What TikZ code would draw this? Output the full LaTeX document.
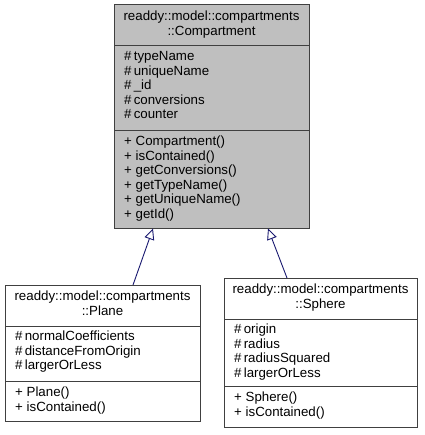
\documentclass[tikz,border=0pt]{standalone}
\usepackage{fontspec}
\setmainfont{Liberation Sans}
\usetikzlibrary{arrows.meta}
\definecolor{boxline}{HTML}{404040}
\definecolor{boxgray}{HTML}{BFBFBF}
\definecolor{edgeblue}{HTML}{191970}
\begin{document}
\begin{tikzpicture}[x=1pt,y=-1pt,
  classbox/.style={draw=boxline,line width=1pt,inner sep=0pt,outer sep=0pt,anchor=north west},
  sepline/.style={draw=boxline,line width=1pt},
  member/.style={anchor=mid west,inner sep=0pt,font=\fontsize{13.3}{14.5}\selectfont},
  title/.style={anchor=mid,inner sep=0pt,font=\fontsize{13.3}{14.5}\selectfont},
  inherit/.style={draw=edgeblue,line width=0.9pt,-{Triangle[open,length=11pt,width=10pt,fill=white]}}]
\useasboundingbox (0,0) rectangle (424,435);
% --- Compartment ---
\node[classbox,fill=boxgray,minimum width=195pt,minimum height=223pt] (comp) at (114,5) {};
\draw[sepline] (114,46) -- (309,46);
\draw[sepline] (114,131) -- (309,131);
\node[title] (ct1) at (211.5,18) {readdy::model::compartments};
\node[title] (ct2) at (211.5,33) {::Compartment};
\node[member] (ca1) at (124,58) {\#\,typeName};
\node[member] (ca2) at (124,72.5) {\#\,uniqueName};
\node[member] (ca3) at (124,87) {\#\,\_id};
\node[member] (ca4) at (124,101.5) {\#\,conversions};
\node[member] (ca5) at (124,116) {\#\,counter};
\node[member] (cm1) at (124,143) {+ Compartment()};
\node[member] (cm2) at (124,157.5) {+ isContained()};
\node[member] (cm3) at (124,172) {+ getConversions()};
\node[member] (cm4) at (124,186.5) {+ getTypeName()};
\node[member] (cm5) at (124,201) {+ getUniqueName()};
\node[member] (cm6) at (124,215.5) {+ getId()};
% --- Plane ---
\node[classbox,fill=white,minimum width=195pt,minimum height=136pt] (plane) at (5,285) {};
\draw[sepline] (5,326) -- (200,326);
\draw[sepline] (5,381) -- (200,381);
\node[title] (pt1) at (102.5,298) {readdy::model::compartments};
\node[title] (pt2) at (102.5,313) {::Plane};
\node[member] (pa1) at (15,338) {\#\,normalCoefficients};
\node[member] (pa2) at (15,352.5) {\#\,distanceFromOrigin};
\node[member] (pa3) at (15,367) {\#\,largerOrLess};
\node[member] (pm1) at (15,394) {+ Plane()};
\node[member] (pm2) at (15,408.5) {+ isContained()};
% --- Sphere ---
\node[classbox,fill=white,minimum width=193pt,minimum height=149pt] (sphere) at (224,278) {};
\draw[sepline] (224,319) -- (417,319);
\draw[sepline] (224,386) -- (417,386);
\node[title] (st1) at (320.5,291) {readdy::model::compartments};
\node[title] (st2) at (320.5,306) {::Sphere};
\node[member] (sa1) at (234,331) {\#\,origin};
\node[member] (sa2) at (234,345.5) {\#\,radius};
\node[member] (sa3) at (234,360) {\#\,radiusSquared};
\node[member] (sa4) at (234,374.5) {\#\,largerOrLess};
\node[member] (sm1) at (234,399) {+ Sphere()};
\node[member] (sm2) at (234,413.5) {+ isContained()};
% --- inheritance ---
\coordinate (pstart) at (133,285);
\coordinate (ptip) at (153,228.5);
\coordinate (sstart) at (287,278);
\coordinate (stip) at (268,228.5);
\draw[inherit] (pstart) -- (ptip);
\draw[inherit] (sstart) -- (stip);
\end{tikzpicture}
\end{document}
